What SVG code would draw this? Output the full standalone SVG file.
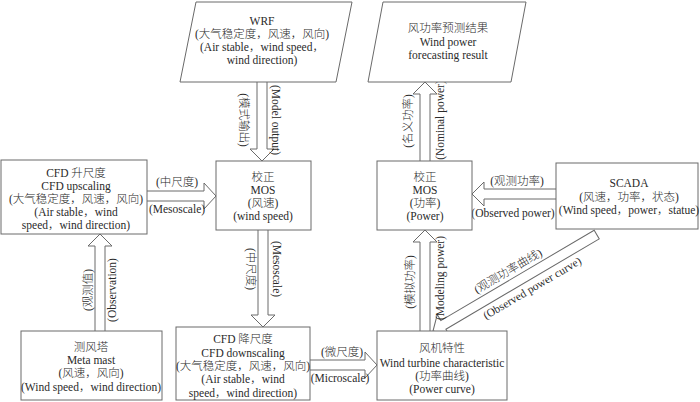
<svg xmlns="http://www.w3.org/2000/svg" width="700" height="402" viewBox="0 0 700 402">
<style>
.box{fill:#fff;stroke:#6a6a6a;stroke-width:1}
.arr{fill:#fff;stroke:#6a6a6a;stroke-width:1;stroke-linejoin:miter}
text{font-family:"Liberation Serif","Noto Sans CJK SC",serif;font-size:11.5px;font-weight:300;fill:#2a2a2a;text-anchor:middle}
.v{dominant-baseline:central}
</style>
<rect width="700" height="402" fill="#fff"/>
<g id="connectors">
  <!-- WRF -> MOS wind -->
  <polyline class="arr" points="257,82 257,149 250,149 262,161 274,149 267,149 267,82"/>
  <!-- MOS wind -> CFD downscaling -->
  <polyline class="arr" points="258,230 258,315 251,315 263,327 275,315 268,315 268,230"/>
  <!-- Meta mast -> CFD upscaling -->
  <polyline class="arr" points="95,331 95,246 88,246 100,234 112,246 105,246 105,331"/>
  <!-- CFD upscaling -> MOS wind -->
  <polyline class="arr" points="147,191 204,191 204,183 216,196 204,209 204,201 147,201"/>
  <!-- CFD downscaling -> turbine -->
  <polyline class="arr" points="310,360 365,360 365,352 377,365 365,378 365,370 310,370"/>
  <!-- SCADA -> MOS power -->
  <polyline class="arr" points="556,189 484,189 484,182 472,194 484,206 484,199 556,199"/>
  <!-- Turbine -> MOS power -->
  <polyline class="arr" points="420,331 420,242 413,242 425,230 437,242 430,242 430,331"/>
  <!-- MOS power -> forecast -->
  <polyline class="arr" points="420,161 420,94 413,94 425,82 437,94 430,94 430,161"/>
  <!-- SCADA -> turbine (diagonal) -->
  <polygon class="arr" transform="translate(433,331) rotate(149.5)" points="-190,-5 -12,-5 -12,-12 0,0 -12,12 -12,5 -190,5"/>
  <!-- labels -->
  <text class="v" transform="translate(244,120) rotate(90)">(模式输出)</text>
  <text class="v" transform="translate(276,120) rotate(90)">(Model output)</text>
  <text class="v" transform="translate(251,269) rotate(90)">(中尺度)</text>
  <text class="v" transform="translate(277,269) rotate(90)">(Mesoscale)</text>
  <text class="v" transform="translate(88,290) rotate(-90)">(观测值)</text>
  <text class="v" transform="translate(112,290) rotate(-90)">(Observation)</text>
  <text class="v" transform="translate(408,121) rotate(-90)">(名义功率)</text>
  <text class="v" transform="translate(440,120) rotate(-90)">(Nominal power)</text>
  <text class="v" transform="translate(410,282) rotate(-90)">(模拟功率)</text>
  <text class="v" transform="translate(440,278) rotate(-90)">(Modeling power)</text>
  <text x="177" y="186">(中尺度)</text>
  <text x="177" y="213">(Mesoscale)</text>
  <text x="517" y="185">(观测功率)</text>
  <text x="513" y="217">(Observed power)</text>
  <text x="342" y="356">(微尺度)</text>
  <text x="340" y="382">(Microscale)</text>
  <text class="v" transform="translate(508,271) rotate(-30.5)">(观测功率曲线)</text>
  <text class="v" transform="translate(532,288) rotate(-30.5)">(Observed power curve)</text>
</g>
<g id="wrf">
  <polygon class="box" points="196,2 352,2 336,82 180,82"/>
  <text x="262" y="24.5">WRF</text>
  <text x="262" y="37.8">(大气稳定度，风速，风向)</text>
  <text x="262" y="51.1">(Air stable，wind speed，</text>
  <text x="262" y="64.4">wind direction)</text>
</g>
<g id="forecast">
  <polygon class="box" points="383,2 526,2 511,82 368,82"/>
  <text x="448" y="32">风功率预测结果</text>
  <text x="448" y="45.5">Wind power</text>
  <text x="448" y="59">forecasting result</text>
</g>
<g id="cfd-up">
  <rect class="box" x="1" y="160" width="146" height="74"/>
  <text x="76" y="177">CFD 升尺度</text>
  <text x="76" y="190">CFD upscaling</text>
  <text x="76" y="203">(大气稳定度，风速，风向)</text>
  <text x="76" y="216">(Air stable，wind</text>
  <text x="76" y="229">speed，wind direction)</text>
</g>
<g id="mos-wind">
  <rect class="box" x="216" y="161" width="95" height="69"/>
  <text x="263" y="181">校正</text>
  <text x="263" y="194">MOS</text>
  <text x="263" y="207">(风速)</text>
  <text x="263" y="220">(wind speed)</text>
</g>
<g id="mos-power">
  <rect class="box" x="377" y="161" width="95" height="69"/>
  <text x="425" y="181">校正</text>
  <text x="425" y="194">MOS</text>
  <text x="425" y="207">(功率)</text>
  <text x="425" y="220">(Power)</text>
</g>
<g id="scada">
  <rect class="box" x="556" y="163" width="142" height="66"/>
  <text x="629" y="187">SCADA</text>
  <text x="629" y="201">(风速，功率，状态)</text>
  <text x="629" y="214">(Wind speed，power，statue)</text>
</g>
<g id="meta-mast">
  <rect class="box" x="21" y="331" width="141" height="69"/>
  <text x="91" y="351">测风塔</text>
  <text x="91" y="364">Meta mast</text>
  <text x="91" y="377">(风速，风向)</text>
  <text x="91" y="391">(Wind speed，wind direction)</text>
</g>
<g id="cfd-down">
  <rect class="box" x="176" y="327" width="134" height="73"/>
  <text x="243" y="343">CFD 降尺度</text>
  <text x="243" y="356.5">CFD downscaling</text>
  <text x="243" y="370">(大气稳定度，风速，风向)</text>
  <text x="243" y="383">(Air stable，wind</text>
  <text x="243" y="396.5">speed，wind direction)</text>
</g>
<g id="turbine">
  <rect class="box" x="377" y="331" width="130" height="69"/>
  <text x="442" y="352">风机特性</text>
  <text x="442" y="367">Wind turbine characteristic</text>
  <text x="442" y="380">(功率曲线)</text>
  <text x="442" y="393">(Power curve)</text>
</g>
</svg>
